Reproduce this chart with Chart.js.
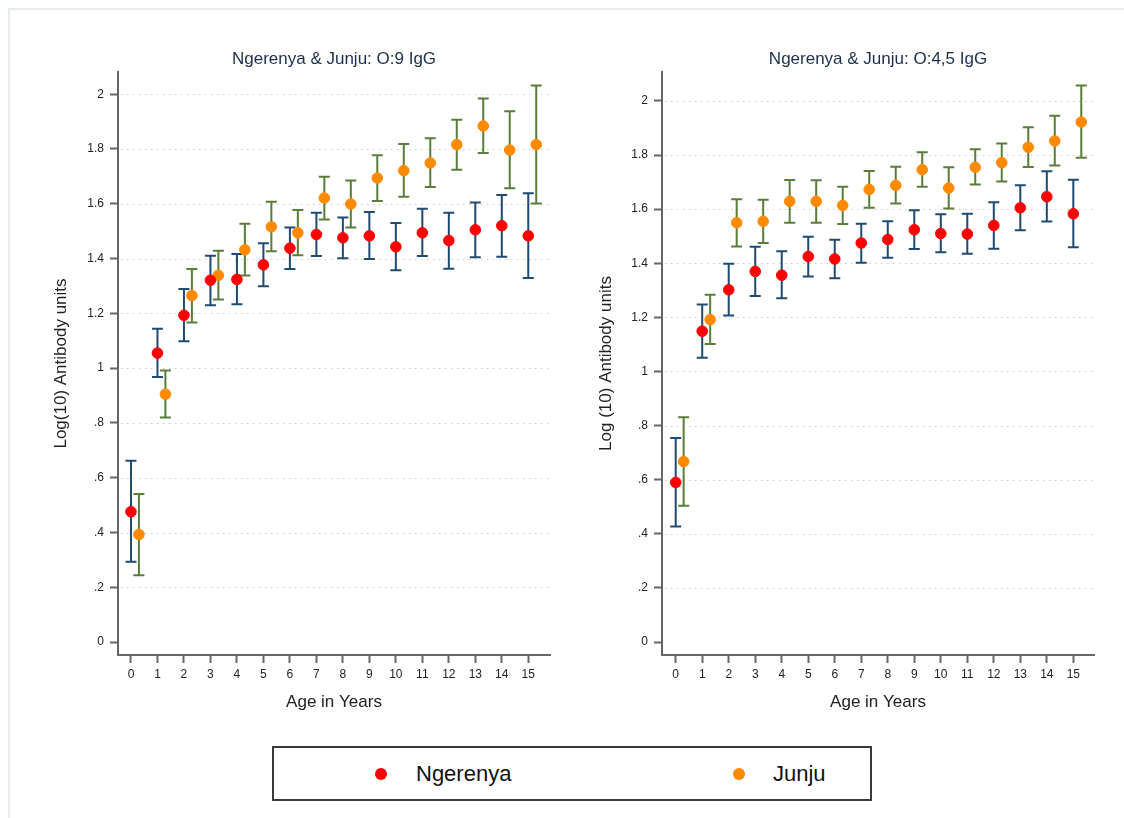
<!DOCTYPE html>
<html>
<head>
<meta charset="utf-8">
<script src="https://cdn.jsdelivr.net/npm/chart.js@4"></script>
<style>
  html, body { margin: 0; padding: 0; background: #fff; overflow: hidden; }
  body { width: 1124px; height: 818px; position: relative; font-family: 'Liberation Sans', Arial, sans-serif; }
  .frame { position: absolute; left: 8px; top: 8px; right: -4px; bottom: -4px; border-top: 2px solid #e6ecea; border-left: 2px solid #e6ecea; }
  canvas { position: absolute; top: 0; }
  #c-o9  { left: 0; }
  #c-o45 { left: 560px; }
  .legend { position: absolute; left: 272px; top: 746px; width: 596px; height: 51px; border: 2px solid #3a3a3a; }
  .lg-item { position: absolute; top: 0; height: 51px; line-height: 51px; font-size: 22px; color: #111; }
  .lg-dot { position: absolute; width: 12px; height: 12px; border-radius: 50%; top: 20px; }
</style>
</head>
<body>
<div class="frame"></div>
<canvas id="c-o9" width="560" height="720"></canvas>
<canvas id="c-o45" width="564" height="720"></canvas>

<div class="legend">
  <span class="lg-dot" style="left:101px;background:#ff0000"></span>
  <span class="lg-item" style="left:142px">Ngerenya</span>
  <span class="lg-dot" style="left:459px;background:#ff8a00"></span>
  <span class="lg-item" style="left:499px">Junju</span>
</div>

<script>
/* ── Data ── */
const ages = [0, 1, 2, 3, 4, 5, 6, 7, 8, 9, 10, 11, 12, 13, 14, 15];

// O:9 IgG — mean and 95% CI per age
const ngerO9    = [0.476, 1.055, 1.193, 1.321, 1.324, 1.377, 1.438, 1.488, 1.476, 1.483, 1.443, 1.494, 1.466, 1.505, 1.520, 1.483];
const ngerO9Lo  = [0.293, 0.968, 1.098, 1.230, 1.233, 1.299, 1.362, 1.409, 1.401, 1.398, 1.357, 1.409, 1.363, 1.405, 1.407, 1.329];
const ngerO9Hi  = [0.662, 1.144, 1.289, 1.410, 1.417, 1.456, 1.513, 1.567, 1.550, 1.570, 1.530, 1.582, 1.567, 1.605, 1.632, 1.638];
const junjuO9   = [0.393, 0.905, 1.265, 1.339, 1.432, 1.516, 1.494, 1.621, 1.599, 1.694, 1.721, 1.749, 1.816, 1.884, 1.796, 1.816];
const junjuO9Lo = [0.244, 0.820, 1.167, 1.251, 1.338, 1.427, 1.412, 1.543, 1.513, 1.610, 1.626, 1.661, 1.724, 1.785, 1.657, 1.601];
const junjuO9Hi = [0.541, 0.991, 1.362, 1.429, 1.527, 1.607, 1.577, 1.699, 1.685, 1.777, 1.818, 1.839, 1.907, 1.984, 1.938, 2.032];

// O:4,5 IgG
const ngerO45    = [0.590, 1.149, 1.302, 1.370, 1.356, 1.425, 1.416, 1.475, 1.488, 1.524, 1.510, 1.508, 1.540, 1.605, 1.646, 1.583];
const ngerO45Lo  = [0.427, 1.051, 1.207, 1.279, 1.271, 1.351, 1.345, 1.402, 1.420, 1.453, 1.441, 1.435, 1.454, 1.522, 1.554, 1.459];
const ngerO45Hi  = [0.754, 1.248, 1.398, 1.461, 1.444, 1.498, 1.487, 1.546, 1.555, 1.596, 1.581, 1.583, 1.626, 1.688, 1.740, 1.709];
const junjuO45   = [0.667, 1.192, 1.550, 1.555, 1.629, 1.629, 1.614, 1.673, 1.688, 1.746, 1.678, 1.755, 1.772, 1.829, 1.852, 1.922];
const junjuO45Lo = [0.504, 1.102, 1.462, 1.475, 1.550, 1.550, 1.545, 1.605, 1.621, 1.683, 1.602, 1.691, 1.702, 1.756, 1.761, 1.790];
const junjuO45Hi = [0.831, 1.284, 1.637, 1.635, 1.708, 1.707, 1.683, 1.741, 1.757, 1.810, 1.755, 1.821, 1.843, 1.903, 1.945, 2.057];

const junjuShift = 0.3;   // Junju markers sit just right of each age
const gridValues = [0.2, 0.4, 0.6, 0.8, 1, 1.2, 1.4, 1.6, 1.8, 2];

const FONT = "'Liberation Sans', Arial, sans-serif";
const COL = { nger: '#ff0000', junju: '#ff8a00', ngerCI: '#1f4a72', junjuCI: '#5b7d3a', axis: '#666', text: '#222' };

/* ── Dotted grid + CI whiskers ── */
const errorBars = {
  id: 'errorBars',
  beforeDatasetsDraw(chart) {
    const { ctx, chartArea: a, scales: { x, y } } = chart;
    ctx.save();
    ctx.strokeStyle = '#c9c9c9';
    ctx.lineWidth = 1;
    ctx.setLineDash([1.5, 4.5]);
    gridValues.forEach(v => {
      const py = Math.round(y.getPixelForValue(v)) + 0.5;
      ctx.beginPath(); ctx.moveTo(a.left + 3, py); ctx.lineTo(a.right, py); ctx.stroke();
    });
    ctx.setLineDash([]);
    ctx.lineWidth = 2;
    chart.data.datasets.forEach((ds, di) => {
      const meta = chart.getDatasetMeta(di);
      ctx.strokeStyle = ds.ciColor;
      ds.data.forEach((d, i) => {
        const px = meta.data[i].x;
        const top = y.getPixelForValue(d.hi), bot = y.getPixelForValue(d.lo);
        ctx.beginPath();
        ctx.moveTo(px, top); ctx.lineTo(px, bot);
        ctx.moveTo(px - 5.5, top); ctx.lineTo(px + 5.5, top);
        ctx.moveTo(px - 5.5, bot); ctx.lineTo(px + 5.5, bot);
        ctx.stroke();
      });
    });
    ctx.restore();
  }
};

function points(mean, lo, hi, shift) {
  return ages.map((a, i) => ({ x: a + shift, y: mean[i], lo: lo[i], hi: hi[i] }));
}

function mkPanel(id, title, yTitle, sets, o) {
  new Chart(document.getElementById(id), {
    type: 'scatter',
    data: {
      datasets: [
        { label: 'Ngerenya', data: points(...sets.nger, 0), ciColor: COL.ngerCI,
          backgroundColor: COL.nger, borderColor: COL.nger, pointRadius: 5.3, pointHoverRadius: 5.3 },
        { label: 'Junju', data: points(...sets.junju, junjuShift), ciColor: COL.junjuCI,
          backgroundColor: COL.junju, borderColor: COL.junju, pointRadius: 5.3, pointHoverRadius: 5.3 }
      ]
    },
    options: {
      responsive: false,
      animation: false,
      layout: { padding: { top: 40, right: o.padRight, bottom: 0, left: 0 } },
      plugins: {
        legend: { display: false },
        tooltip: { enabled: false },
        title: { display: true, text: title, fullSize: false, color: '#1c2e4a',
                 font: { family: FONT, size: 17, weight: 'normal', lineHeight: 1.2 },
                 padding: { top: 9.3, bottom: 2.3 } }
      },
      scales: {
        x: {
          type: 'linear', min: o.xMin, max: o.xMax,
          afterFit: s => { s.height = 65; },
          border: { color: COL.axis, width: 2 },
          grid: { drawOnChartArea: false, tickLength: 8, tickColor: COL.axis, tickWidth: 2 },
          ticks: { stepSize: 1, includeBounds: false, autoSkip: false, maxTicksLimit: 30, maxRotation: 0,
                   padding: 4, color: COL.text, font: { family: FONT, size: 12 } },
          title: { display: true, text: 'Age in Years', color: COL.text,
                   font: { family: FONT, size: 17, lineHeight: 1.2 }, padding: { top: 0, bottom: 7.8 } }
        },
        y: {
          min: o.yMin, max: o.yMax,
          afterFit: s => { s.width = o.yWidth; },
          border: { color: COL.axis, width: 2 },
          grid: { drawOnChartArea: false, tickLength: 8, tickColor: COL.axis, tickWidth: 2 },
          ticks: { stepSize: 0.2, includeBounds: false, padding: 6, color: COL.text,
                   font: { family: FONT, size: 12 },
                   callback: v => (+v.toFixed(1)).toString().replace(/^0\./, '.') },
          title: { display: true, text: yTitle, color: COL.text,
                   font: { family: FONT, size: 17, lineHeight: 1.2 }, padding: { top: o.yTitlePad, bottom: 0 } }
        }
      }
    },
    plugins: [errorBars]
  });
}

mkPanel('c-o9', 'Ngerenya & Junju: O:9 IgG', 'Log(10) Antibody units',
  { nger: [ngerO9, ngerO9Lo, ngerO9Hi], junju: [junjuO9, junjuO9Lo, junjuO9Hi] },
  { xMin: -0.49, xMax: 15.82, yMin: -0.047, yMax: 2.081, yWidth: 118, yTitlePad: 51, padRight: 10 });

mkPanel('c-o45', 'Ngerenya & Junju: O:4,5 IgG', 'Log (10) Antibody units',
  { nger: [ngerO45, ngerO45Lo, ngerO45Hi], junju: [junjuO45, junjuO45Lo, junjuO45Hi] },
  { xMin: -0.517, xMax: 15.78, yMin: -0.048, yMax: 2.107, yWidth: 102, yTitlePad: 36, padRight: 30 });
</script>
</body>
</html>
